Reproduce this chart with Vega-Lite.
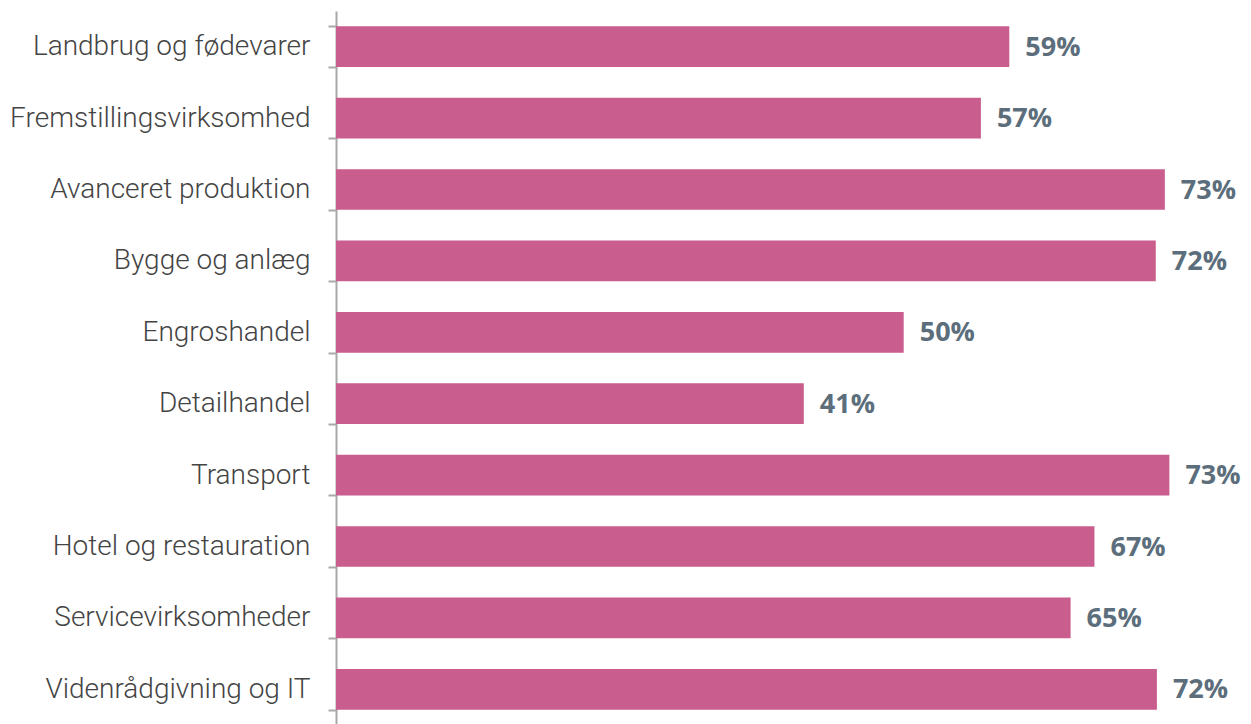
{
  "$schema": "https://vega.github.io/schema/vega-lite/v6.json",
  "autosize": {"type": "none"},
  "padding": {"left": 336, "top": 11, "right": 1, "bottom": 0},
  "width": 914,
  "height": 714,
  "background": "white",
  "data": {"values": [
    {"k": "Landbrug og fødevarer", "v": 0.593},
    {"k": "Fremstillingsvirksomhed", "v": 0.568},
    {"k": "Avanceret produktion", "v": 0.730},
    {"k": "Bygge og anlæg", "v": 0.722},
    {"k": "Engroshandel", "v": 0.500},
    {"k": "Detailhandel", "v": 0.412},
    {"k": "Transport", "v": 0.734},
    {"k": "Hotel og restauration", "v": 0.668},
    {"k": "Servicevirksomheder", "v": 0.647},
    {"k": "Videnrådgivning og IT", "v": 0.723}
  ]},
  "config": {"view": {"stroke": null}},
  "encoding": {
    "y": {"field": "k", "type": "nominal", "sort": null,
      "scale": {"paddingInner": 0.43, "paddingOuter": 0.215},
      "axis": {"title": null, "domainColor": "#A8A8A8", "domainWidth": 2, "tickColor": "#A8A8A8", "tickWidth": 2, "tickSize": 8, "tickBand": "extent", "labelPadding": 18, "labelFont": "Roboto", "labelFontWeight": 300, "labelFontSize": 28, "labelColor": "#444444", "labelLimit": 400}},
    "x": {"field": "v", "type": "quantitative", "scale": {"domain": [0, 0.805]}, "axis": null}
  },
  "layer": [
    {"mark": {"type": "bar", "color": "#C95D8D"}},
    {"mark": {"type": "text", "align": "left", "baseline": "middle", "dx": 16, "dy": 1, "font": "Open Sans", "fontWeight": "bold", "fontSize": 27, "color": "#5C6E7B"},
     "encoding": {"text": {"field": "v", "type": "quantitative", "format": ".0%"}}}
  ]
}
